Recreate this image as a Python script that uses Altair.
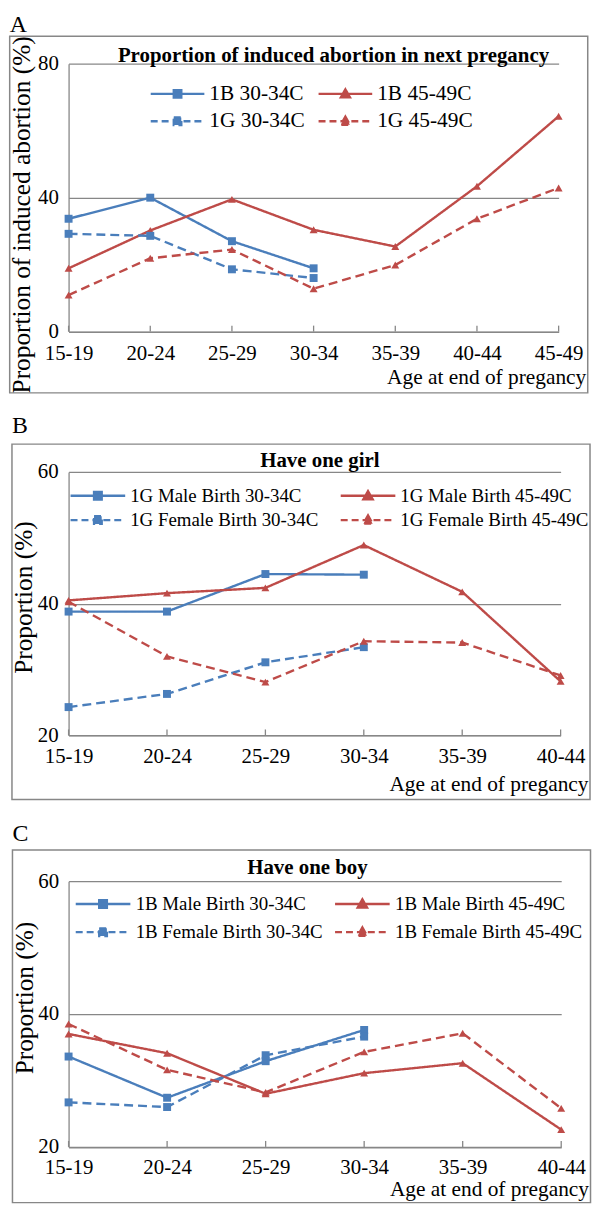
import json
import altair as alt
import pandas as pd

FONT = "Liberation Serif"
BLUE = "#4A7EBB"
RED = "#BE4B48"
GRAY = "#878787"

# ---------------- data ----------------
ages_A = ["15-19", "20-24", "25-29", "30-34", "35-39", "40-44", "45-49"]
ages_BC = ["15-19", "20-24", "25-29", "30-34", "35-39", "40-44"]

# Panel A: proportion of induced abortion in next pregnancy
names_A = ["1B 30-34C", "1B 45-49C", "1G 30-34C", "1G 45-49C"]
a_1b_30 = [33.7, 40.0, 27.0, 18.9]
a_1b_45 = [18.9, 30.2, 39.5, 30.4, 25.4, 43.4, 64.3]
a_1g_30 = [29.2, 28.6, 18.6, 16.0]
a_1g_45 = [10.9, 21.9, 24.5, 12.8, 19.9, 33.7, 42.9]
dashed_A = ["1G 30-34C", "1G 45-49C"]

# Panel B: have one girl
names_B = ["1G Male Birth 30-34C", "1G Male Birth 45-49C",
           "1G Female Birth 30-34C", "1G Female Birth 45-49C"]
b_male_30 = [38.8, 38.8, 44.5, 44.4]
b_male_45 = [40.5, 41.6, 42.4, 48.9, 41.8, 28.2]
b_female_30 = [24.3, 26.3, 31.1, 33.4]
b_female_45 = [40.3, 32.0, 28.1, 34.3, 34.1, 29.1]
dashed_B = ["1G Female Birth 30-34C", "1G Female Birth 45-49C"]

# Panel C: have one boy
names_C = ["1B Male Birth 30-34C", "1B Male Birth 45-49C",
           "1B Female Birth 30-34C", "1B Female Birth 45-49C"]
c_male_30 = [33.6, 27.4, 32.9, 37.6]
c_male_45 = [37.0, 34.1, 28.0, 31.1, 32.6, 22.6]
c_female_30 = [26.7, 26.0, 33.8, 36.6]
c_female_45 = [38.5, 31.6, 28.2, 34.3, 37.1, 25.8]
dashed_C = ["1B Female Birth 30-34C", "1B Female Birth 45-49C"]

# ---------------- layout (pixels, relative to each plot origin) ----------------
GEOM_A = dict(W=493.4, H=269.7, slot=(-60.3, 523.7, -51.3, 343.7),
              frame=(-59.3, 522.7, -27.6, 331.4), letter=(-59.3, -31.8),
              title=(266.7, -1.6), ytitle=(-47.3, 151.7), xtitle=(520.7, 52),
              xpad=11.3, ypad=10.3, leg=(81.2, 18.4), symsize=2916, legfs=21.5,
              loff=3.5, cpad=12, clip=24, rpad=3.5)
GEOM_B = dict(W=495.4, H=265.3, slot=(-58, 526, -67, 342),
              frame=(-57, 525, -28, 329.7), letter=(-57, -39),
              title=(253, -4.5), ytitle=(-45, 126), xtitle=(523, 55.7),
              xpad=10, ypad=10.5, leg=(0.5, 13), symsize=3025, legfs=19,
              loff=3.5, cpad=21, clip=22, rpad=2.5)
GEOM_C = dict(W=496, H=267.6, slot=(-57.5, 526.5, -69.3, 324.7),
              frame=(-56.5, 525.5, -31.3, 323.7), letter=(-56.5, -40.3),
              title=(240.5, -7), ytitle=(-44.5, 117.2), xtitle=(523.5, 49.4),
              xpad=10, ypad=10, leg=(5.7, 12), symsize=3025, legfs=19,
              loff=3.8, cpad=10.1, clip=22, rpad=6.4)

SQ_PATH = "M-1,0H1M-0.14,-0.14H0.14V0.14H-0.14Z"
TRI_PATH = "M-1,0H1M0,-0.17L0.17,0.13H-0.17Z"


def build_panel(cats, names, values, dashed, ydomain, yticks,
                title_text, letter, ytitle, g):
    rows = []
    for name, vals in zip(names, values):
        for c, v in zip(cats, vals):
            rows.append({"age": c, "series": name, "value": v,
                         "marker": "sq" if "30-34C" in name else "tri",
                         "style": "dash" if name in dashed else "solid"})
    df = pd.DataFrame(rows)
    ticks_df = pd.DataFrame({"age": cats})
    one = pd.DataFrame({"k": [0]})

    colors = [BLUE if "30-34C" in n else RED for n in names]

    W, H = g["W"], g["H"]

    xscale = alt.Scale(domain=cats, type="point", padding=0)
    xaxis = alt.Axis(
        title="Age at end of pregancy", labelAngle=0, ticks=False, tickSize=0,
        domainColor=GRAY, domainWidth=1.3, grid=False,
        labelFont=FONT, labelFontSize=21, labelColor="black",
        labelPadding=g["xpad"],
        titleFont=FONT, titleFontSize=21.5, titleFontWeight="normal",
        titleColor="black", titleAlign="right", titleBaseline="alphabetic",
        titleX=g["xtitle"][0], titleY=g["xtitle"][1])
    x_enc = alt.X("age:N", scale=xscale, axis=xaxis, sort=cats)

    yscale = alt.Scale(domain=ydomain, nice=False, zero=False)
    yaxis = alt.Axis(
        title=ytitle, values=yticks, grid=True, gridColor=GRAY, gridWidth=1.3,
        ticks=False, tickSize=0, domainColor=GRAY, domainWidth=1.3,
        labelFont=FONT, labelFontSize=21, labelColor="black",
        labelPadding=g["ypad"],
        titleFont=FONT, titleFontSize=25.5, titleFontWeight="normal",
        titleColor="black", titleAngle=270, titleAlign="center",
        titleBaseline="middle", titleX=g["ytitle"][0], titleY=g["ytitle"][1])
    y_enc = alt.Y("value:Q", scale=yscale, axis=yaxis)

    shape_expr = ("indexof(datum.value, '30-34C') >= 0 ? '%s' : '%s'"
                  % (SQ_PATH, TRI_PATH))
    color_expr = ("indexof(datum.value, '30-34C') >= 0 ? '%s' : '%s'"
                  % (BLUE, RED))
    dash_expr = ("indexof(%s, datum.value) >= 0 ? [7,4] : [1,0]"
                 % json.dumps(dashed).replace('"', "'"))

    legend = alt.Legend(
        title=None, orient="none", legendX=g["leg"][0], legendY=g["leg"][1],
        direction="horizontal", columns=2, padding=0,
        symbolSize=g["symsize"], symbolStrokeWidth=2.4,
        symbolOffset=0, labelFont=FONT, labelFontSize=g["legfs"],
        labelColor="black", labelOffset=g["loff"], labelLimit=400,
        columnPadding=g["cpad"], rowPadding=g["rpad"], clipHeight=g["clip"],
        symbolType={"expr": shape_expr},
        symbolFillColor={"expr": color_expr},
        symbolStrokeColor={"expr": color_expr},
        symbolDash={"expr": dash_expr})

    color_scale = alt.Scale(domain=names, range=colors)

    slot = alt.Chart(one).mark_rect(opacity=0).encode(
        x=alt.value(g["slot"][0]), x2=alt.value(g["slot"][1]),
        y=alt.value(g["slot"][2]), y2=alt.value(g["slot"][3]))
    frame = alt.Chart(one).mark_rect(
        fillOpacity=0, stroke=GRAY, strokeWidth=1.5).encode(
        x=alt.value(g["frame"][0]), x2=alt.value(g["frame"][1]),
        y=alt.value(g["frame"][2]), y2=alt.value(g["frame"][3]))
    letter_t = alt.Chart(one).mark_text(
        text=letter, font=FONT, fontSize=24, align="left",
        baseline="alphabetic", color="black").encode(
        x=alt.value(g["letter"][0]), y=alt.value(g["letter"][1]))
    title_t = alt.Chart(one).mark_text(
        text=title_text, font=FONT, fontSize=21, fontWeight="bold",
        align="center", baseline="alphabetic", color="black").encode(
        x=alt.value(g["title"][0]), y=alt.value(g["title"][1]))
    inner_ticks = alt.Chart(ticks_df).mark_rule(
        color=GRAY, strokeWidth=1.3).encode(
        x=x_enc, y=alt.value(H), y2=alt.value(H - 6))

    lines = alt.Chart(df).mark_line(strokeWidth=2.4).encode(
        x=x_enc, y=y_enc,
        color=alt.Color("series:N", scale=color_scale, legend=legend),
        strokeDash=alt.StrokeDash(
            "style:N", scale=alt.Scale(domain=["solid", "dash"],
                                       range=[[1, 0], [9, 5]]),
            legend=None),
        detail="series:N")
    points = alt.Chart(df).mark_point(filled=True, size=64, opacity=1).encode(
        x=x_enc, y=y_enc,
        color=alt.Color("series:N", scale=color_scale, legend=legend),
        shape=alt.Shape("marker:N",
                        scale=alt.Scale(domain=["sq", "tri"],
                                        range=["square", "triangle-up"]),
                        legend=None))

    return alt.layer(slot, frame, letter_t, title_t, inner_ticks, lines,
                     points).properties(width=W, height=H)


panel_A = build_panel(ages_A, names_A, [a_1b_30, a_1b_45, a_1g_30, a_1g_45],
                      dashed_A, [0, 80], [0, 40, 80],
                      "Proportion of induced abortion in next pregancy", "A",
                      "Proportion of induced abortion (%)", GEOM_A)
panel_B = build_panel(ages_BC, names_B,
                      [b_male_30, b_male_45, b_female_30, b_female_45],
                      dashed_B, [20, 60], [20, 40, 60], "Have one girl", "B",
                      "Proportion (%)", GEOM_B)
panel_C = build_panel(ages_BC, names_C,
                      [c_male_30, c_male_45, c_female_30, c_female_45],
                      dashed_C, [20, 60], [20, 40, 60], "Have one boy", "C",
                      "Proportion (%)", GEOM_C)

chart = (
    alt.vconcat(panel_A, panel_B, panel_C, spacing=0)
    .resolve_scale(color="independent", shape="independent",
                   strokeDash="independent", x="independent", y="independent")
    .resolve_legend(color="independent", shape="independent",
                    strokeDash="independent")
    .properties(padding=0)
    .configure_view(strokeWidth=0)
)

chart.save("out.html", embed_options={"renderer": "svg", "actions": False})
